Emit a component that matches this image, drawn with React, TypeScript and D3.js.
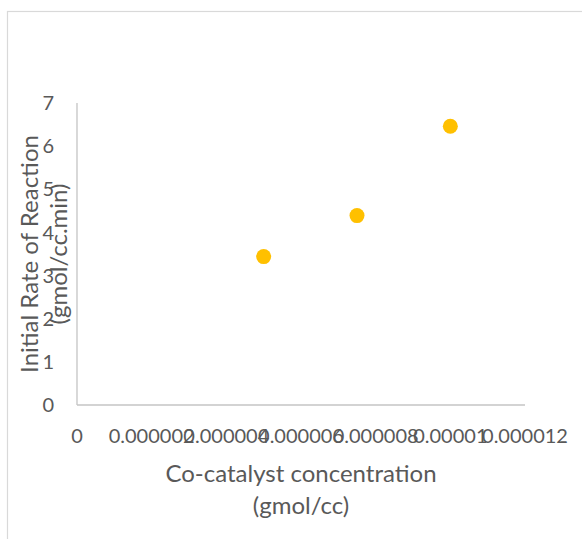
import React from "react";
import * as d3 from "d3";

// Co-catalyst concentration (gmol/cc) vs initial rate of reaction (gmol/cc.min)
const concentrations = [5e-6, 7.5e-6, 1e-5];
const rates = [3.44, 4.39, 6.46];

const xTicks = [0, 0.000002, 0.000004, 0.000006, 0.000008, 0.00001, 0.000012];
const xTickLabels = ["0", "0.000002", "0.000004", "0.000006", "0.000008", "0.00001", "0.000012"];
const yTicks = [0, 1, 2, 3, 4, 5, 6, 7];

const xTitle = ["Co-catalyst concentration", "(gmol/cc)"];
const yTitle = ["Initial Rate of Reaction", "(gmol/cc.min)"];

const W = 582;
const H = 539;
const plot = { left: 77, right: 525, top: 103, bottom: 405 };
const font = "Lato, 'Noto Sans', sans-serif";
const textColor = "#595959";
const axisColor = "#c4c4c4";

export default function App() {
  const x = d3.scaleLinear().domain([0, 0.000012]).range([plot.left, plot.right]);
  const y = d3.scaleLinear().domain([0, 7]).range([plot.bottom, plot.top]);
  const cy = (plot.top + plot.bottom) / 2;

  return (
    <svg
      width={W}
      height={H}
      style={{ position: "absolute", left: 0, top: 0, background: "#fff" }}
      fontFamily={font}
    >
      <rect x={0} y={0} width={W} height={H} fill="#fff" />
      {/* chart area border */}
      <rect x={7.5} y={11.5} width={W + 20} height={H + 20} fill="none" stroke="#d9d9d9" strokeWidth={1.2} />

      {/* axes */}
      <line x1={plot.left} x2={plot.left} y1={y(7)} y2={y(0)} stroke={axisColor} strokeWidth={1.3} />
      <line x1={plot.left} x2={x(0.000012)} y1={y(0)} y2={y(0)} stroke={axisColor} strokeWidth={1.3} />

      {/* y tick labels */}
      {yTicks.map((t) => (
        <text key={t} x={54} y={y(t)} dy="0.36em" textAnchor="end" fontSize={20} fill={textColor}>
          {t}
        </text>
      ))}

      {/* x tick labels */}
      {xTicks.map((t, i) => (
        <text key={i} x={x(t)} y={443} textAnchor="middle" fontSize={20} fill={textColor}>
          {xTickLabels[i]}
        </text>
      ))}

      {/* data points */}
      {concentrations.map((c, i) => (
        <circle key={i} cx={x(c)} cy={y(rates[i])} r={7.5} fill="#FFC000" />
      ))}

      {/* x axis title */}
      <text x={(plot.left + plot.right) / 2} y={482} textAnchor="middle" fontSize={24} fill={textColor}>
        {xTitle[0]}
      </text>
      <text x={(plot.left + plot.right) / 2} y={514} textAnchor="middle" fontSize={24} fill={textColor}>
        {xTitle[1]}
      </text>

      {/* y axis title */}
      <text transform={`translate(38,${cy}) rotate(-90)`} textAnchor="middle" fontSize={24} fill={textColor}>
        {yTitle[0]}
      </text>
      <text transform={`translate(67,${cy}) rotate(-90)`} textAnchor="middle" fontSize={24} fill={textColor}>
        {yTitle[1]}
      </text>
    </svg>
  );
}
